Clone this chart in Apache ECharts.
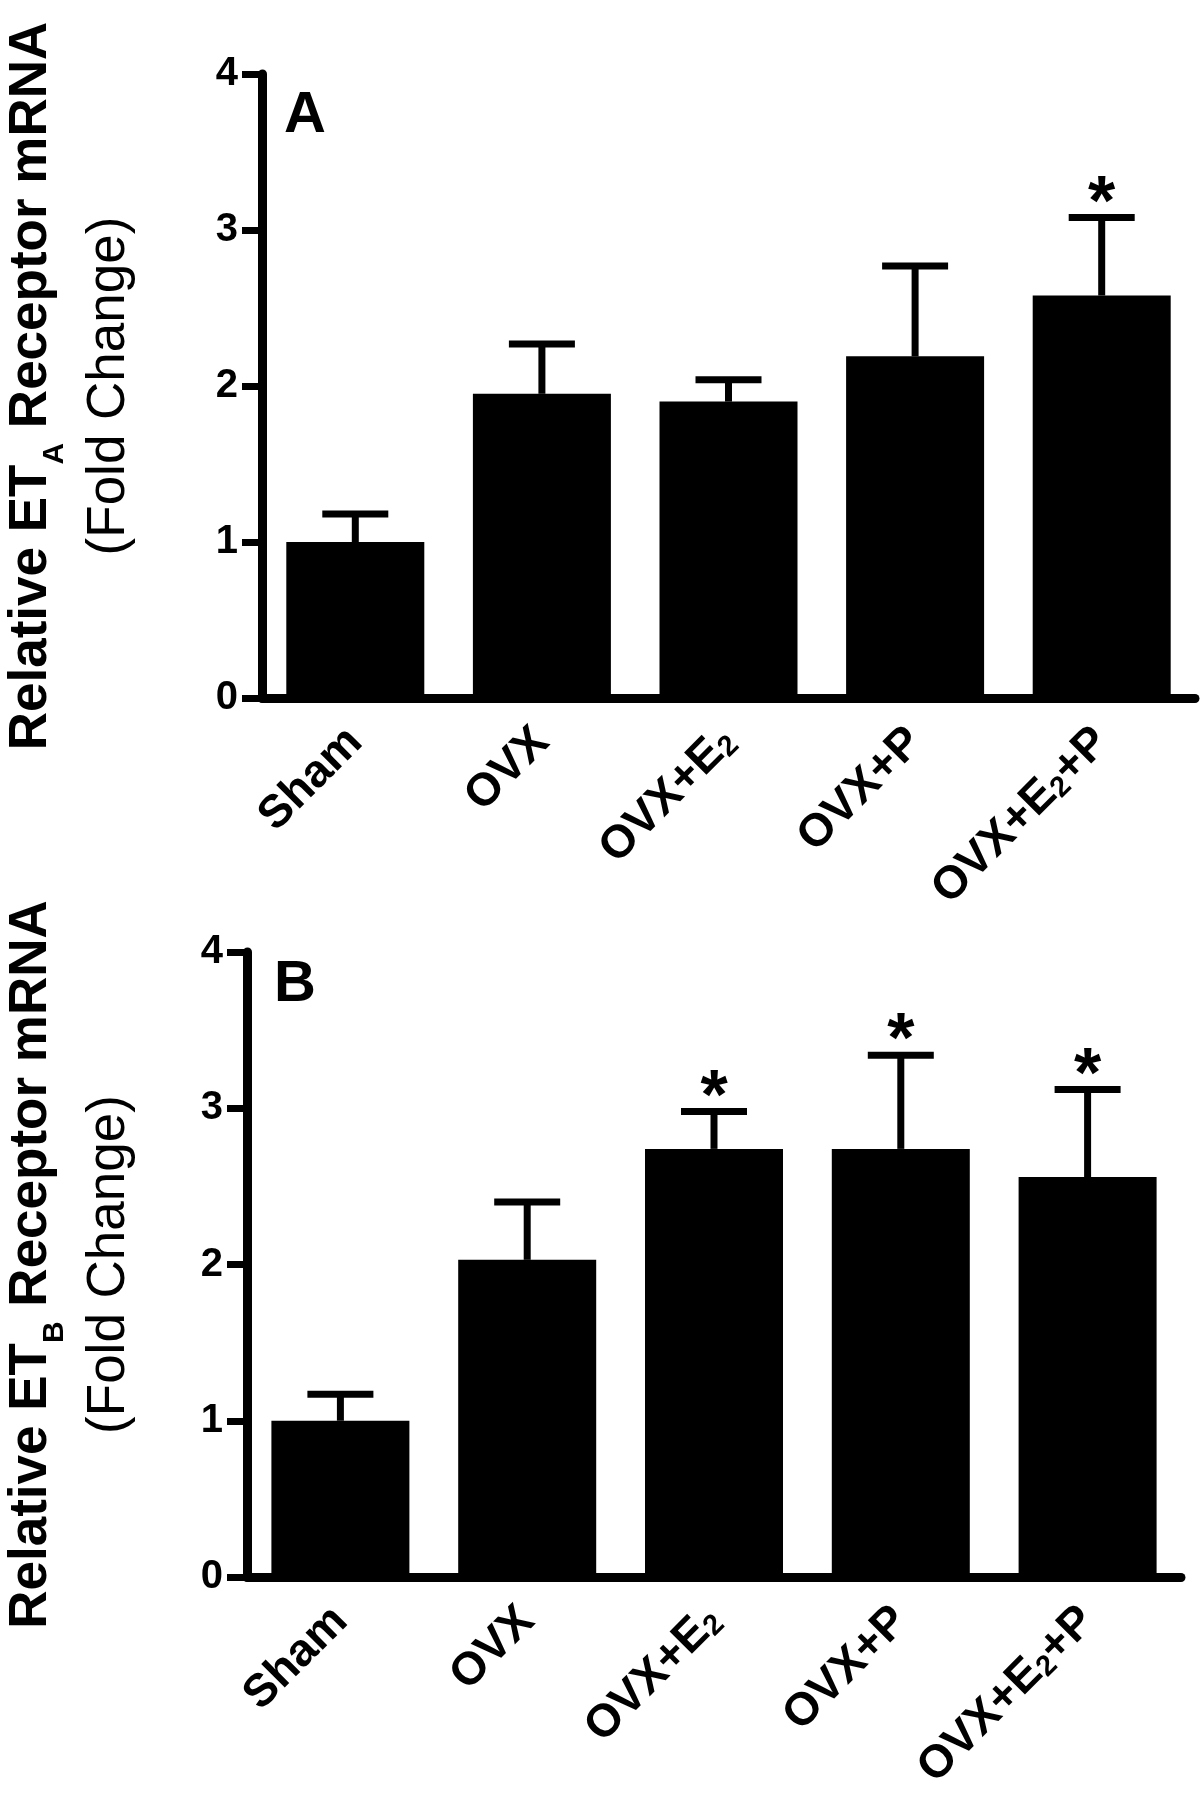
<!DOCTYPE html>
<html><head><meta charset="utf-8">
<script src="https://cdn.jsdelivr.net/npm/echarts@6/dist/echarts.min.js"></script>
<style>html,body{margin:0;padding:0;background:#fff}#c{width:1200px;height:1797px}</style>
</head><body><div id="c"></div>
<script>
var categories = ['Sham', 'OVX', 'OVX+E2', 'OVX+P', 'OVX+E2+P'];
var yTickMax = 4;
var etaMean  = [1.00, 1.95, 1.90, 2.19, 2.58];
var etaUpper = [1.18, 2.27, 2.04, 2.77, 3.08];
var etaSig   = [0, 0, 0, 0, 1];
var etbMean  = [1.00, 2.03, 2.74, 2.74, 2.56];
var etbUpper = [1.17, 2.40, 2.98, 3.34, 3.12];
var etbSig   = [0, 0, 1, 1, 1];

var FONT = 'Liberation Sans, Arial, Helvetica, sans-serif';

function makeX(gi) {
  return {
    type: 'category', gridIndex: gi, data: categories,
    axisLine: {lineStyle: {color: '#000', width: 9}},
    axisTick: {alignWithLabel: true, length: 27, lineStyle: {color: '#000', width: 7}},
    axisLabel: {
      rotate: 45, margin: 37, color: '#000', fontFamily: FONT, fontWeight: 'bold', fontSize: 46,
      formatter: function (v) { return v.replace('E2', 'E{sub|2}'); },
      rich: {sub: {fontSize: 29, fontWeight: 'bold', fontFamily: FONT, color: '#000', verticalAlign: 'bottom', padding: [16, 0, 0, 0]}}
    }
  };
}
function makeY(gi, sub, gap) {
  return {
    type: 'value', gridIndex: gi, min: 0, max: yTickMax, interval: 1,
    splitLine: {show: false},
    axisLine: {show: true, lineStyle: {color: '#000', width: 9}},
    axisTick: {show: true, length: 20, lineStyle: {color: '#000', width: 7}},
    axisLabel: {margin: 24, color: '#000', fontFamily: FONT, fontWeight: 'bold', fontSize: 40},
    name: '{m|Relative ET}{s|' + sub + '}{m| Receptor mRNA}\n{n|(Fold Change)}',
    nameLocation: 'middle', nameRotate: 90, nameGap: gap,
    nameTextStyle: {
      color: '#000', fontFamily: FONT,
      rich: {
        m: {fontSize: 53, fontWeight: 'bold', fontFamily: FONT, color: '#000', lineHeight: 78},
        s: {fontSize: 30, fontWeight: 'bold', fontFamily: FONT, color: '#000', verticalAlign: 'bottom', lineHeight: 30},
        n: {fontSize: 53, fontFamily: FONT, color: '#000', lineHeight: 78}
      }
    }
  };
}
function errData(mean, upper, sig) {
  return categories.map(function (c, i) { return [i, mean[i], upper[i], sig[i]]; });
}
function renderErr(params, api) {
  var x = api.value(0), m = api.value(1), u = api.value(2), s = api.value(3);
  var b = api.coord([x, m]);
  var t = api.coord([x, u]);
  var ch = [
    {type: 'line', shape: {x1: b[0], y1: b[1], x2: t[0], y2: t[1]}, style: {stroke: '#000', lineWidth: 7}},
    {type: 'line', shape: {x1: t[0] - 33, y1: t[1], x2: t[0] + 33, y2: t[1]}, style: {stroke: '#000', lineWidth: 7}}
  ];
  if (s) {
    ch.push({type: 'text', style: {text: '*', x: t[0], y: t[1] - 12, align: 'center', verticalAlign: 'middle',
      font: 'bold 70px ' + FONT, fill: '#000'}});
  }
  return {type: 'group', children: ch};
}

var chart = echarts.init(document.getElementById('c'), null, {renderer: 'canvas'});
chart.setOption({
  backgroundColor: '#fff',
  animation: false,
  grid: [
    {left: 262, right: 5, top: 74, height: 624, outerBoundsMode: 'none', containLabel: false},
    {left: 247, right: 19, top: 952, height: 625, outerBoundsMode: 'none', containLabel: false}
  ],
  xAxis: [makeX(0), makeX(1)],
  yAxis: [makeY(0, 'A', 114), makeY(1, 'B', 99)],
  graphic: [
    {type: 'text', left: 284, top: 87, style: {text: 'A', font: 'bold 58px ' + FONT, fill: '#000'}},
    {type: 'text', left: 274, top: 956, style: {text: 'B', font: 'bold 58px ' + FONT, fill: '#000'}}
  ],
  series: [
    {type: 'bar', xAxisIndex: 0, yAxisIndex: 0, data: etaMean, barWidth: 138, itemStyle: {color: '#000'}},
    {type: 'custom', xAxisIndex: 0, yAxisIndex: 0, data: errData(etaMean, etaUpper, etaSig), renderItem: renderErr, z: 3},
    {type: 'bar', xAxisIndex: 1, yAxisIndex: 1, data: etbMean, barWidth: 138, itemStyle: {color: '#000'}},
    {type: 'custom', xAxisIndex: 1, yAxisIndex: 1, data: errData(etbMean, etbUpper, etbSig), renderItem: renderErr, z: 3}
  ]
});
</script></body></html>
